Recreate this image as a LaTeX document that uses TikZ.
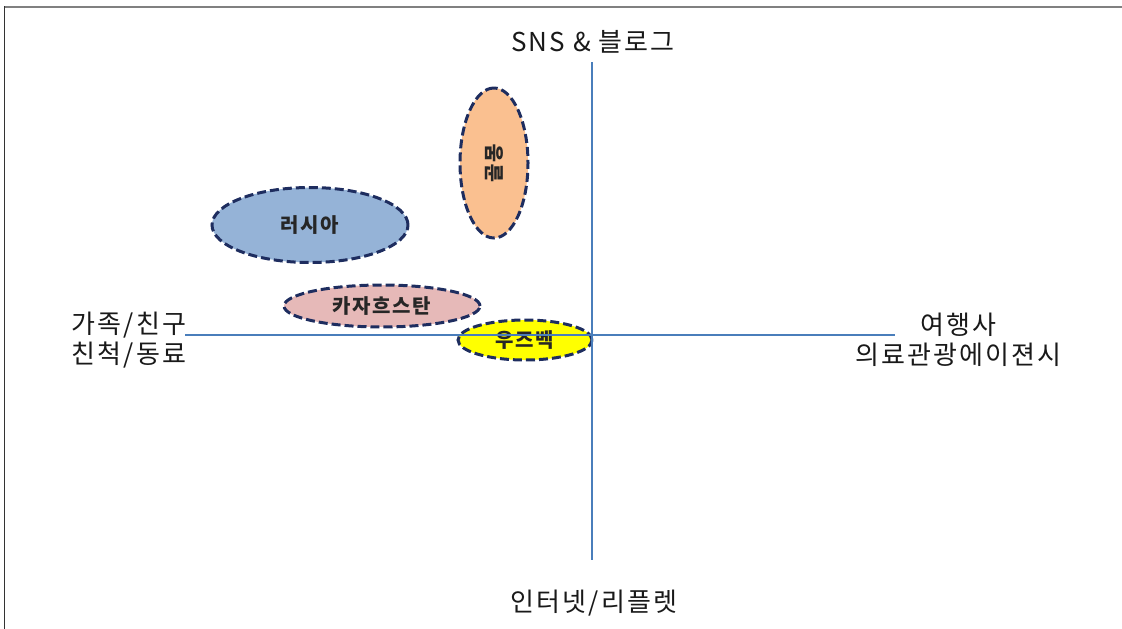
\documentclass[tikz,border=0pt]{standalone}
\usepackage{fontspec}
\setmainfont{Noto Sans CJK KR}
\newfontfamily\kr[LetterSpace=8]{Noto Sans CJK KR}
\usetikzlibrary{shapes.geometric}
\definecolor{axisblue}{RGB}{74,126,187}
\definecolor{navy}{RGB}{30,45,95}
\definecolor{rufill}{RGB}{149,179,215}
\definecolor{mnfill}{RGB}{250,192,144}
\definecolor{kzfill}{RGB}{230,185,184}
\definecolor{uzfill}{RGB}{255,255,0}
\definecolor{framegray}{RGB}{128,128,128}
\tikzset{
  country/.style={ellipse, draw=navy, line width=3pt, dash pattern=on 9pt off 4pt,
    inner sep=0pt, font=\kr\bfseries\fontsize{20}{24}\selectfont, text=black!85},
  axisline/.style={draw=axisblue, line width=1.3pt},
  axislabel/.style={font=\kr\fontsize{26}{30}\selectfont, align=center, inner sep=0pt, text=black!90}
}
\begin{document}
\begin{tikzpicture}[x=1pt,y=-1pt]
\useasboundingbox (0,0) rectangle (1122,629);
% frame
\draw[framegray, line width=2pt] (4,6.5) -- (1122,6.5);
\draw[black!80, line width=1.5pt] (4.5,6) -- (4.5,629);
% country ellipses
\node[country, fill=rufill, minimum width=196pt, minimum height=75pt] (ru) at (310,225) {러시아};
\node[country, fill=mnfill, minimum width=150pt, minimum height=68pt, rotate=90] (mn) at (494,163) {골몽};
\node[country, fill=kzfill, minimum width=196pt, minimum height=42pt] (kz) at (382,306) {카자흐스탄};
\node[country, fill=uzfill, minimum width=134pt, minimum height=40pt] (uz) at (525,340) {우즈벡};
% axes
\coordinate (hl) at (185,335);
\coordinate (hr) at (895,335);
\coordinate (vt) at (592,62);
\coordinate (vb) at (592,560);
\draw[axisline] (hl) -- (hr);
\draw[axisline] (vt) -- (vb);
% labels
\node[axislabel] (top) at (593,42) {SNS \& 블로그};
\node[axislabel] (bot) at (594,603) {인터넷/리플렛};
\node[axislabel] (left) at (129,340) {가족/친구\\친척/동료};
\node[axislabel] (right) at (958,340) {여행사\\의료관광에이젼시};
\end{tikzpicture}
\end{document}
